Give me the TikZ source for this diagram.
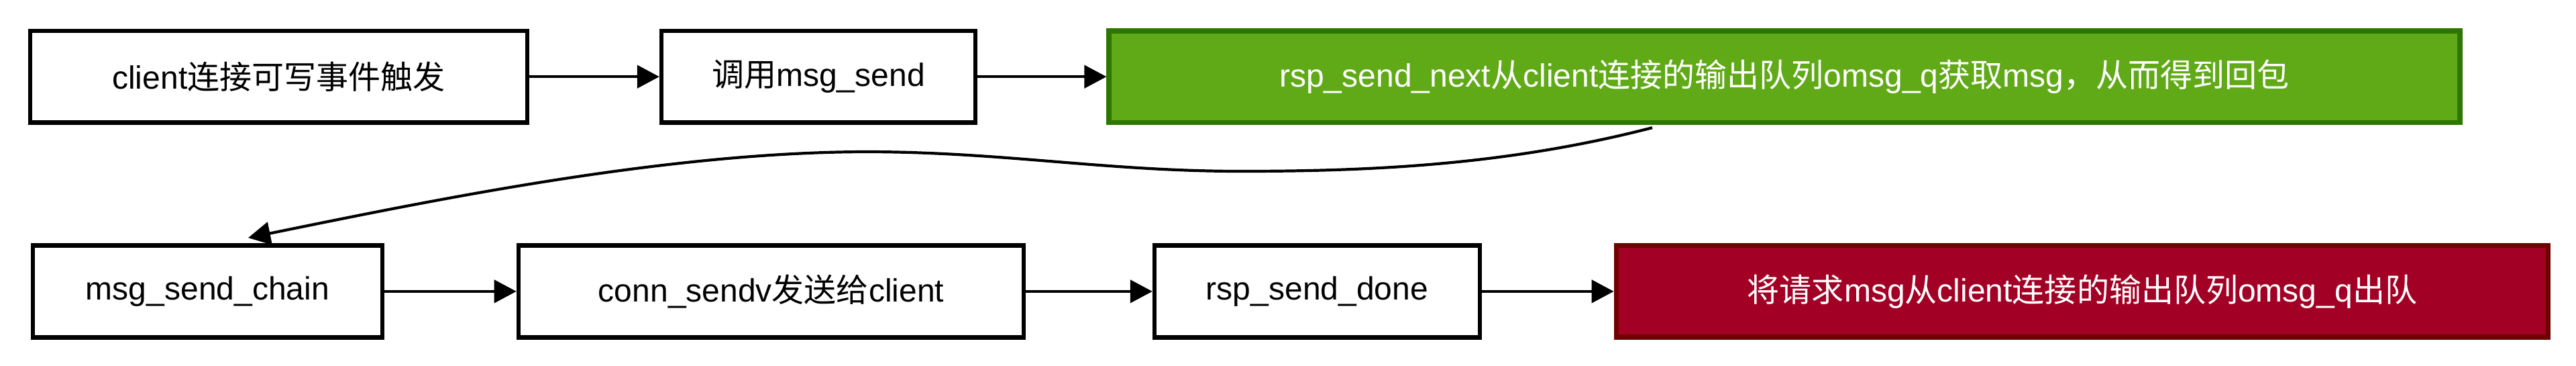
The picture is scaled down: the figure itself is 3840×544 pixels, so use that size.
\documentclass[tikz,border=0pt]{standalone}
\usepackage{fontspec}
\setmainfont{Liberation Sans}
\newfontfamily\cjk{Noto Sans CJK SC}
\usetikzlibrary{arrows.meta}
\newcommand{\zh}[1]{{\cjk #1}}
\definecolor{gfill}{HTML}{60A917}
\definecolor{gline}{HTML}{2D7600}
\definecolor{rfill}{HTML}{A20025}
\definecolor{rline}{HTML}{6F0000}
\tikzset{
  box/.style={draw=black, line width=0.066cm, fill=white, text=black, inner sep=0pt,
    font=\fontsize{13.66pt}{16pt}\selectfont, minimum height=1.365cm},
  gbox/.style={box, draw=gline, fill=gfill, text=white, line width=0.075cm},
  rbox/.style={box, draw=rline, fill=rfill, text=white, line width=0.075cm},
  conn/.style={line width=0.042cm, -{Triangle[length=0.33cm,width=0.34cm]}}
}
\begin{document}
\begin{tikzpicture}[x=0.01cm, y=-0.01cm]
\useasboundingbox (0,0) rectangle (3840,544);
\node[box, minimum width=7.405cm] (b1) at (415.5,114.2) {client\zh{连接可写事件触发}};
\node[box, minimum width=4.675cm] (b2) at (1220,114.2) {\zh{调用}msg\_send};
\node[gbox, minimum width=20.125cm] (b3) at (2660,114.2) {rsp\_send\_next\zh{从}client\zh{连接的输出队列}omsg\_q\zh{获取}msg\zh{，从而得到回包}};
\node[box, minimum width=5.205cm] (b4) at (309.5,433.9) {msg\_send\_chain};
\node[box, minimum width=7.525cm] (b5) at (1149.5,433.9) {conn\_sendv\zh{发送给}client};
\node[box, minimum width=4.845cm] (b6) at (1963.5,433.9) {rsp\_send\_done};
\node[rbox, minimum width=13.885cm] (b7) at (3104,433.9) {\zh{将请求}msg\zh{从}client\zh{连接的输出队列}omsg\_q\zh{出队}};
\coordinate (cs) at ([xshift=8.13cm,yshift=-0.039cm]b3.south west);
\draw[conn] (b1) -- (b2);
\draw[conn] (b2) -- (b3);
\draw[conn] (cs) .. controls (2250,245) and (2050,255) .. (1850,255)
  .. controls (1650,255) and (1500,227) .. (1300,226)
  .. controls (1000,225) and (650,297) .. ([xshift=3.24cm,yshift=0.082cm]b4.north west);
\draw[conn] (b4) -- (b5);
\draw[conn] (b5) -- (b6);
\draw[conn] (b6) -- (b7);
\end{tikzpicture}
\end{document}
